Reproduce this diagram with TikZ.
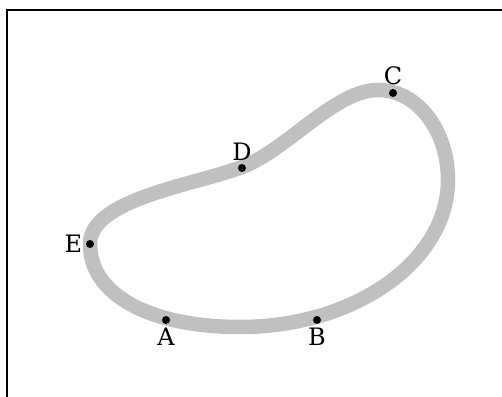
\documentclass[tikz,border=0pt]{standalone}
\usepackage{fontspec}
\setmainfont{DejaVu Serif}
\usepackage{tikz}

\begin{document}
\begin{tikzpicture}[
    x=1pt, y=1pt,
    font=\fontsize{24}{28}\selectfont,
    frame/.style={line width=2pt},
    bean/.style={line width=14.5pt, color=beangray},
    dot/.style={circle, fill, inner sep=0pt, minimum size=8pt},
    every label/.style={inner sep=0.5pt},
    label distance=3pt
]
\definecolor{beangray}{RGB}{192,192,192}
\useasboundingbox (0,0) rectangle (502,396);
% frame, cut off at the right and bottom
\coordinate (frameBL) at (7,-5);
\coordinate (frameTL) at (7,386);
\coordinate (frameTR) at (510,386);
\draw[frame] (frameBL) -- (frameTL) -- (frameTR);

% the closed curve
\coordinate (left) at (90,152);
\coordinate (bottom) at (240,69);
\coordinate (right) at (448,216);
\coordinate (top) at (378,306);
\coordinate (dent) at (242,229);
\draw[bean] (left) .. controls (90,100) and (152,69) .. (bottom)
    .. controls (355,69) and (448,135) .. (right)
    .. controls (448,266) and (417,306) .. (top)
    .. controls (335,306) and (287,246) .. (dent)
    .. controls (195,211) and (90,197) .. cycle;

% marked points
\node[dot, label=below:A] (A) at (166,76) {};
\node[dot, label=below:B] (B) at (317,76) {};
\node[dot, label=above:C] (C) at (393,303) {};
\node[dot, label=above:D] (D) at (242,228) {};
\node[dot, label=left:E] (E) at (90,152) {};
\end{tikzpicture}
\end{document}
